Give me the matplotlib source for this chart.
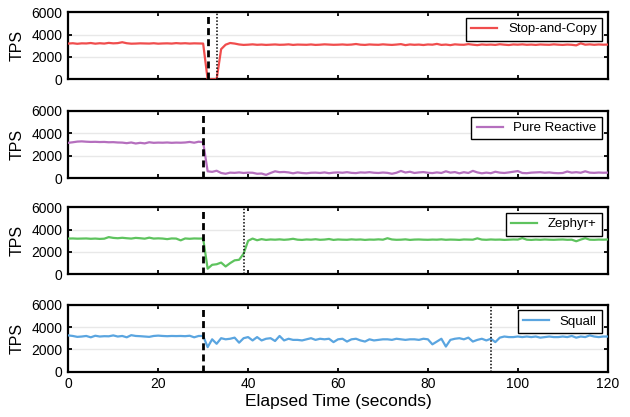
import matplotlib
matplotlib.use("Agg")
import matplotlib.pyplot as plt
import numpy as np

plt.rcParams['font.family'] = ['Liberation Sans', 'DejaVu Sans']

labels = ["Stop-and-Copy", "Pure Reactive", "Zephyr+", "Squall"]
colors = ["#f04d4d", "#b56fbe", "#5ec35e", "#5aa5e0"]

stop_and_copy = [
    3200, 3230, 3180, 3220, 3210, 3250, 3190, 3230, 3200, 3260,
    3220, 3240, 3320, 3230, 3190, 3200, 3220, 3210, 3200, 3230,
    3190, 3210, 3220, 3200, 3240, 3210, 3230, 3200, 3220, 3210,
    3200, 0, 0, 0, 2700, 3100, 3250, 3200, 3120, 3080,
    3100, 3130, 3090, 3110, 3080, 3100, 3120, 3090, 3100, 3130,
    3080, 3110, 3100, 3090, 3120, 3080, 3100, 3130, 3110, 3090,
    3100, 3120, 3090, 3110, 3160, 3100, 3080, 3120, 3100, 3090,
    3130, 3100, 3080, 3110, 3150, 3060, 3120, 3090, 3110, 3070,
    3120, 3100, 3170, 3080, 3110, 3060, 3130, 3100, 3090, 3150,
    3100, 3060, 3120, 3090, 3110, 3080, 3140, 3100, 3070, 3120,
    3100, 3130, 3090, 3110, 3080, 3120, 3100, 3090, 3130, 3100,
    3080, 3110, 3090, 3040, 3220, 3100, 3130, 3090, 3120, 3100,
    3110]

pure_reactive = [
    3150, 3200, 3260, 3280, 3250, 3230, 3240, 3220, 3230, 3200,
    3210, 3180, 3170, 3120, 3180, 3090, 3150, 3100, 3200, 3150,
    3170, 3160, 3180, 3150, 3170, 3160, 3180, 3230, 3160, 3250,
    3200, 600, 550, 650, 450, 380, 480, 460, 500, 450,
    480, 470, 380, 400, 280, 450, 600, 520, 540, 500,
    420, 500, 450, 420, 470, 480, 450, 500, 430, 480,
    500, 470, 520, 460, 440, 500, 480, 520, 470, 450,
    490, 460, 380, 470, 630, 490, 560, 450, 500, 530,
    470, 440, 500, 450, 600, 480, 530, 420, 520, 450,
    640, 500, 420, 480, 430, 560, 480, 450, 500, 560,
    620, 450, 430, 480, 500, 520, 470, 500, 450, 430,
    450, 580, 480, 520, 470, 600, 480, 460, 490, 470,
    480]

zephyr = [
    3200, 3210, 3190, 3200, 3210, 3180, 3200, 3170, 3190, 3330,
    3260, 3230, 3270, 3230, 3200, 3260, 3230, 3190, 3280, 3200,
    3220, 3200, 3150, 3210, 3200, 3040, 3210, 3180, 3210, 3200,
    3200, 500, 850, 900, 1050, 700, 1000, 1250, 1300, 1850,
    3000, 3200, 3050, 3150, 3080, 3120, 3100, 3130, 3090, 3120,
    3180, 3100, 3080, 3120, 3100, 3140, 3090, 3110, 3160, 3080,
    3120, 3100, 3090, 3130, 3100, 3120, 3080, 3110, 3100, 3130,
    3100, 3230, 3120, 3090, 3100, 3130, 3080, 3110, 3120, 3100,
    3090, 3110, 3100, 3130, 3090, 3110, 3100, 3080, 3120, 3110,
    3100, 3220, 3110, 3090, 3120, 3100, 3110, 3080, 3100, 3120,
    3110, 3240, 3100, 3080, 3110, 3090, 3120, 3100, 3090, 3110,
    3120, 3090, 3100, 2960, 3110, 3230, 3100, 3090, 3110, 3100,
    3120]

squall = [
    3250, 3200, 3120, 3150, 3200, 3080, 3220, 3150, 3180, 3170,
    3250, 3150, 3200, 3080, 3270, 3200, 3180, 3150, 3120, 3200,
    3230, 3200, 3180, 3200, 3190, 3200, 3180, 3220, 3080, 3200,
    3200, 2200, 2900, 2500, 3000, 2900, 2950, 3050, 2600, 3000,
    3100, 2800, 3100, 2800, 2950, 3000, 2750, 3200, 2800, 2950,
    2850, 2850, 2800, 2900, 3000, 2850, 2950, 2900, 2950, 2650,
    2900, 2950, 2700, 2900, 2950, 2800, 2700, 2900, 2800, 2850,
    2900, 2900, 2850, 2950, 2900, 2850, 2900, 2900, 2850, 2950,
    2900, 2450, 2700, 2950, 2250, 2850, 2950, 3000, 2900, 3050,
    2700, 2850, 2950, 2800, 2950, 2650, 3050, 3150, 3100, 3100,
    3150, 3100, 3150, 3100, 3150, 3050, 3100, 3150, 3100, 3100,
    3150, 3100, 3200, 3050, 3150, 3100, 3250, 3150, 3100, 3150,
    3150]

series = [stop_and_copy, pure_reactive, zephyr, squall]
dashed_x = [31, 30, 30, 30]
dotted_x = [33, None, 39, 94]

yticks = [0, 2000, 4000, 6000]
xticks = [0, 20, 40, 60, 80, 100, 120]

W, H = 630, 417
fig = plt.figure(figsize=(W / 100, H / 100), dpi=100)

left_px, right_px = 68.3, 607.7
bottoms_px = [79.3, 178.0, 274.3, 371.7]
height_px = 67.0

for i, (vals, lab, col) in enumerate(zip(series, labels, colors)):
    b = bottoms_px[i]
    ax = fig.add_axes([left_px / W, 1 - b / H, (right_px - left_px) / W, height_px / H])
    t = np.arange(len(vals))
    ax.plot(t, vals, color=col, lw=1.6, label=lab, zorder=3)
    ax.axvline(dashed_x[i], color='black', lw=2.0, linestyle=(0, (2.5, 1.5)), zorder=4)
    if dotted_x[i] is not None:
        ax.axvline(dotted_x[i], color='black', lw=1.1, linestyle=(0, (1, 1.2)), zorder=4)
    ax.set_xlim(0, 120)
    ax.set_ylim(0, 6000)
    ax.set_yticks(yticks)
    ax.set_xticks(xticks)
    ax.grid(axis='y', color='#e8e8e8', lw=1.0, zorder=0)
    ax.set_axisbelow(True)
    ax.tick_params(direction='in', top=True, right=True, length=2.8, width=1.3,
                   labelsize=10, pad=4)
    for s in ax.spines.values():
        s.set_linewidth(1.6)
    ax.set_ylabel("TPS", fontsize=11.5, labelpad=5)
    if i < 3:
        ax.tick_params(labelbottom=False)
    else:
        ax.set_xlabel("Elapsed Time (seconds)", fontsize=12.5, labelpad=2)
    leg = ax.legend(loc='upper right', fontsize=9.5, fancybox=False,
                    edgecolor='black', framealpha=1, borderaxespad=0.43,
                    handlelength=2.0)
    leg.get_frame().set_linewidth(1.0)

fig.savefig("out.png", dpi=100)
